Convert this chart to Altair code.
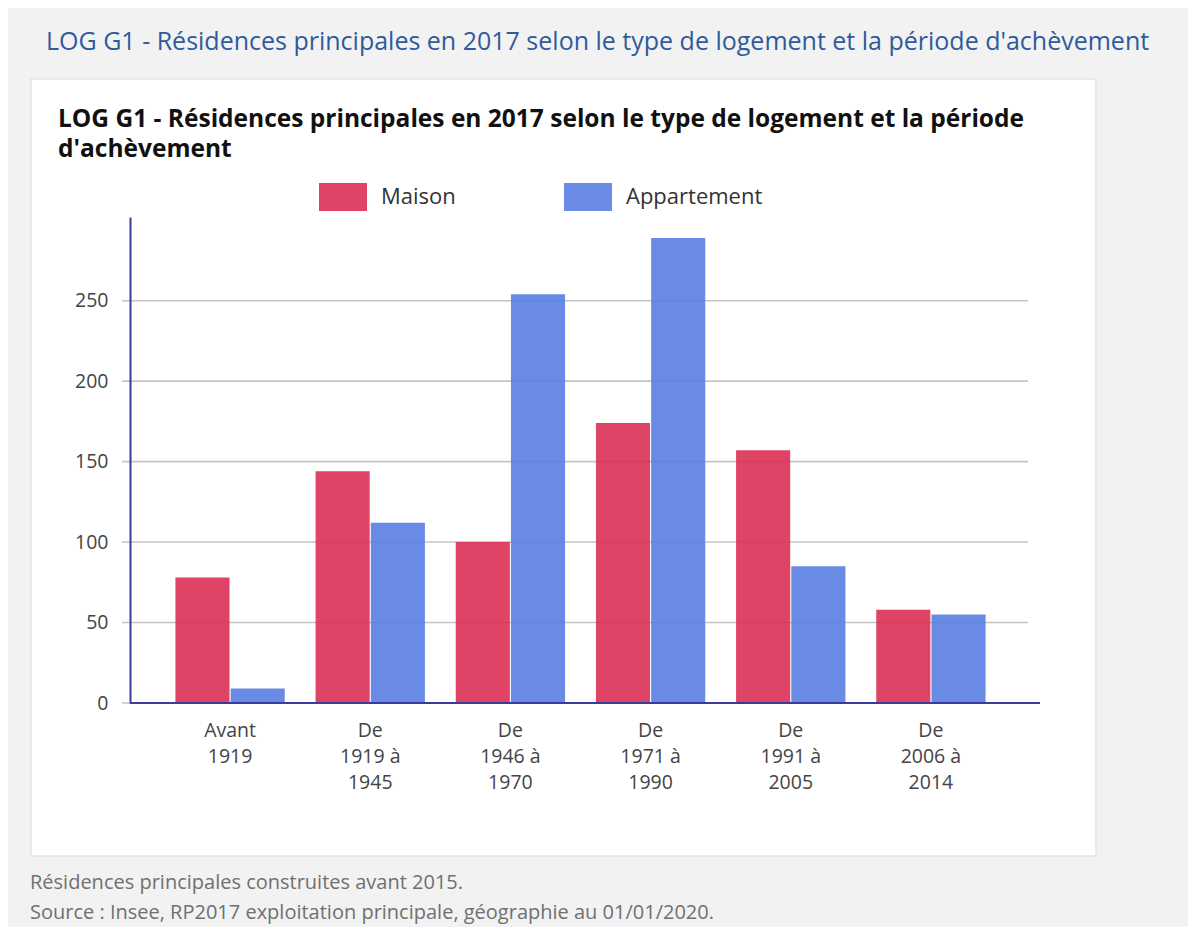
import altair as alt
import pandas as pd

# ---- data ----
categories = ["Avant\n1919", "De\n1919 à\n1945", "De\n1946 à\n1970",
              "De\n1971 à\n1990", "De\n1991 à\n2005", "De\n2006 à\n2014"]
maison = [78, 144, 100, 174, 157, 58]
appartement = [9, 112, 254, 289, 85, 55]
series = ["Maison", "Appartement"]
colors = ["#dc2f55", "#5a7ee2"]
y_ticks = [0, 50, 100, 150, 200, 250]

outer_title = "LOG G1 - Résidences principales en 2017 selon le type de logement et la période d'achèvement"
inner_title = "LOG G1 - Résidences principales en 2017 selon le type de logement et la période\nd'achèvement"
note1 = "Résidences principales construites avant 2015."
note2 = "Source : Insee, RP2017 exploitation principale, géographie au 01/01/2020."

rows = []
for c, m, a in zip(categories, maison, appartement):
    rows.append({"periode": c, "type": "Maison", "valeur": m})
    rows.append({"periode": c, "type": "Appartement", "valeur": a})
df = pd.DataFrame(rows)

FONT = "Open Sans"
W, H = 910, 486

one = pd.DataFrame({"k": [0]})

card = alt.Chart(one).mark_rect(color="white", stroke="#e4e4e4", strokeWidth=1.5).encode(
    x=alt.value(-99), x2=alt.value(966), y=alt.value(-138), y2=alt.value(639)
)

grid = alt.Chart(pd.DataFrame({"v": y_ticks})).mark_rule(color="#c4c4c4", strokeWidth=1.6).encode(
    y=alt.Y("v:Q", scale=alt.Scale(domain=[0, 302])),
    x=alt.value(-8), x2=alt.value(898),
)

bars = alt.Chart(df).mark_bar(opacity=0.9).encode(
    x=alt.X("periode:N", sort=categories,
            scale=alt.Scale(range=[30, 871], paddingInner=0.22, paddingOuter=0.11),
            axis=alt.Axis(title=None, labelAngle=0, domain=False, ticks=False,
                          labelPadding=18, labelFontSize=19.5, labelColor="#444",
                          labelFont=FONT, labelLineHeight=26, zindex=1,
                          labelExpr="split(datum.label, '\\n')")),
    xOffset=alt.XOffset("type:N", sort=series, scale=alt.Scale(paddingInner=0.02)),
    y=alt.Y("valeur:Q", scale=alt.Scale(domain=[0, 302], nice=False),
            axis=alt.Axis(title=None, values=y_ticks, grid=False, ticks=False,
                          domainColor="#3b3b9e", domainWidth=2, labelPadding=22,
                          labelFontSize=19.5, labelColor="#444", labelFont=FONT, zindex=1)),
    color=alt.Color("type:N", sort=series,
                    scale=alt.Scale(domain=series, range=colors),
                    legend=alt.Legend(title=None, orient="none", legendX=189, legendY=-44,
                                      direction="horizontal",
                                      symbolType="M-1,-0.583H1V0.583H-1Z",
                                      symbolSize=2304, symbolStrokeWidth=0,
                                      symbolOpacity=0.9,
                                      labelFontSize=22, labelFont=FONT, labelColor="#333",
                                      labelOffset=14, columnPadding=108, padding=0)),
)

baseline = alt.Chart(one).mark_rule(color="#3b3b9e", strokeWidth=2).encode(
    x=alt.value(0), x2=alt.value(910), y=alt.value(H)
)

t_outer = alt.Chart(pd.DataFrame({"t": [outer_title]})).mark_text(
    align="left", baseline="middle", font=FONT, fontSize=25, color="#2f5b9a"
).encode(text="t:N", x=alt.value(-84), y=alt.value(-175))

t_inner = alt.Chart(pd.DataFrame({"t": [inner_title]})).mark_text(
    align="left", baseline="middle", font=FONT, fontSize=24.5, fontWeight="bold",
    color="#111", lineBreak="\n", lineHeight=30
).encode(text="t:N", x=alt.value(-72), y=alt.value(-97))

t_note1 = alt.Chart(pd.DataFrame({"t": [note1]})).mark_text(
    align="left", baseline="middle", font=FONT, fontSize=20, color="#707070"
).encode(text="t:N", x=alt.value(-100), y=alt.value(666))

t_note2 = alt.Chart(pd.DataFrame({"t": [note2]})).mark_text(
    align="left", baseline="middle", font=FONT, fontSize=20, color="#707070"
).encode(text="t:N", x=alt.value(-100), y=alt.value(696))

chart = alt.layer(card, grid, bars, baseline, t_outer, t_inner, t_note1, t_note2).resolve_scale(
    y="shared"
).properties(
    width=W, height=H,
    autosize=alt.AutoSizeParams(type="none"),
    padding={"left": 122, "top": 209, "right": 148, "bottom": 224},
).configure(background="#f2f2f2").configure_view(stroke=None)

chart.save("out.html", embed_options={"renderer": "svg", "actions": False})
